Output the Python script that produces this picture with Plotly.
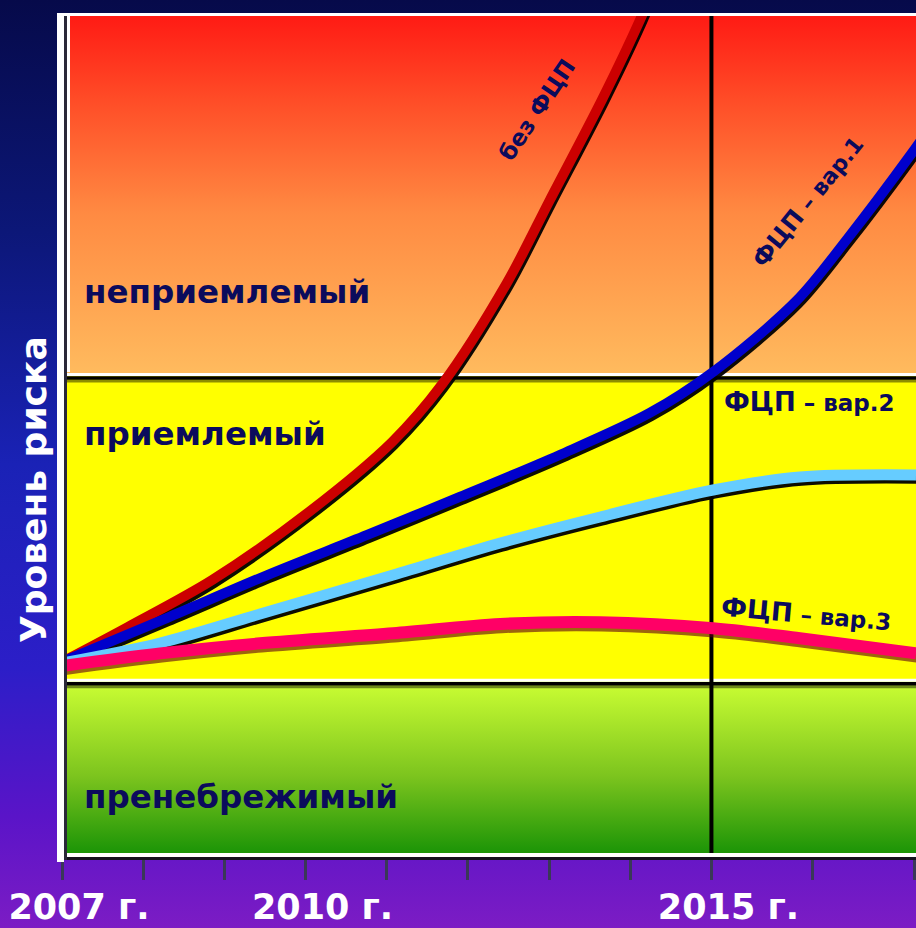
import base64
import plotly.graph_objects as go

# ---------------- data ----------------
years_red = [2007.0, 2007.81, 2008.85, 2010.05, 2011.07, 2011.68, 2012.48, 2013.01, 2013.65, 2014.12, 2014.30]
risk_red = [22.98, 27.14, 32.74, 40.9, 49.2, 56.0, 68.10, 77.98, 89.88, 99.40, 103.57]

years_blue = [2007.0, 2008.29, 2009.53, 2010.76, 2011.90, 2013.13, 2014.24, 2015.02, 2016.05, 2016.67, 2017.45, 2017.69]
risk_blue = [22.98, 28.21, 33.33, 38.10, 42.62, 47.62, 52.62, 57.50, 66.0, 73.3, 83.3, 86.6]

years_lblue = [2007.0, 2008.21, 2009.44, 2011.08, 2012.40, 2013.63, 2015.02, 2016.09, 2017.52]
risk_lblue = [22.86, 25.24, 28.69, 33.33, 37.14, 40.24, 43.45, 45.0, 45.24]

years_pink = [2007.0, 2008.21, 2009.44, 2011.08, 2012.40, 2013.63, 2015.02, 2016.09, 2017.52]
risk_pink = [22.5, 24.0, 25.2, 26.4, 27.5, 27.7, 27.0, 25.8, 24.0]

series_names = ["без ФЦП", "ФЦП – вар.1", "ФЦП – вар.2", "ФЦП – вар.3"]
zone_names = ["неприемлемый", "приемлемый", "пренебрежимый"]
zone_levels = [0.0, 20.8, 57.2, 100.0]
marker_year = 2015
tick_years = [2007, 2008, 2009, 2010, 2011, 2012, 2013, 2014, 2015, 2016.25, 2017.5]
tick_labels = ["2007 г.", "", "", "2010 г.", "", "", "", "", "2015 г.", "", ""]
y_title = "Уровень риска"

# ---------------- geometry ----------------
W, H = 916, 928
PX_L, PX_R, PY_T, PY_B = 62, 916, 15, 855
X0, X1 = 2007.0, 2017.52
Y0, Y1 = 0.0, 100.0
ux = (PX_R - PX_L) / (X1 - X0)   # px per year
uy = (PY_B - PY_T) / (Y1 - Y0)   # px per unit

NAVY = "#0b0b5c"
FONT = "DejaVu Sans"

fig = go.Figure()

# background gradient of the whole page
svg = (
    "<svg xmlns='http://www.w3.org/2000/svg' width='916' height='928' preserveAspectRatio='none'>"
    "<defs><linearGradient id='g' x1='0' y1='0' x2='0' y2='1'>"
    "<stop offset='0' stop-color='#060a4a'/>"
    "<stop offset='0.25' stop-color='#0c1778'/>"
    "<stop offset='0.5' stop-color='#1a22b6'/>"
    "<stop offset='0.72' stop-color='#2c1ec8'/>"
    "<stop offset='0.88' stop-color='#5a14c8'/>"
    "<stop offset='1' stop-color='#7c1cc4'/>"
    "</linearGradient></defs><rect width='916' height='928' fill='url(#g)'/></svg>"
)
bg_src = "data:image/svg+xml;base64," + base64.b64encode(svg.encode()).decode()

# zone fills
zone_scales = [
    [[0, "#199306"], [0.45, "#7cc41e"], [1, "#ccff33"]],
    [[0, "#ffff00"], [1, "#ffff00"]],
    [[0, "#ffbb5e"], [0.45, "#ff8a42"], [0.75, "#ff4f28"], [1, "#ff1a14"]],
]
for i in range(3):
    lo, hi = zone_levels[i], zone_levels[i + 1]
    fig.add_trace(go.Scatter(
        x=[X0, X1, X1, X0, X0], y=[lo, lo, hi, hi, lo],
        mode="lines", line=dict(width=0), fill="toself",
        fillgradient=dict(type="vertical", colorscale=zone_scales[i], start=lo, stop=hi),
        hoverinfo="skip", showlegend=False))

# zone boundary lines (white line + dark shadow under it)
for lv in zone_levels[1:3]:
    fig.add_trace(go.Scatter(x=[X0, X1], y=[lv - 6.5 / uy] * 2, mode="lines",
                             line=dict(color="rgba(0,0,0,0.45)", width=3), hoverinfo="skip", showlegend=False))
    fig.add_trace(go.Scatter(x=[X0, X1], y=[lv - 3.5 / uy] * 2, mode="lines",
                             line=dict(color="#000000", width=3.5), hoverinfo="skip", showlegend=False))
    fig.add_trace(go.Scatter(x=[X0, X1], y=[lv, lv], mode="lines",
                             line=dict(color="#ffffff", width=3), hoverinfo="skip", showlegend=False))

# vertical 2015 line
fig.add_trace(go.Scatter(x=[marker_year, marker_year], y=[Y0, Y1], mode="lines",
                         line=dict(color="#000000", width=4), hoverinfo="skip", showlegend=False))

# curves with shadow
curves = [
    (years_red, risk_red, "#cc0000", 10, "rgba(0,0,0,0.95)"),
    (years_blue, risk_blue, "#0000cc", 10, "rgba(0,0,0,0.95)"),
    (years_lblue, risk_lblue, "#66ccff", 11, "rgba(0,0,0,0.95)"),
    (years_pink, risk_pink, "#ff0066", 12, "rgba(90,0,20,0.6)"),
]
for (xs, ys, col, w, sh), name in zip(curves, series_names):
    fig.add_trace(go.Scatter(x=[v + 1.5 / ux for v in xs], y=[v - 3.2 / uy for v in ys],
                             mode="lines", line=dict(color=sh, width=w, shape="spline", smoothing=0.9),
                             hoverinfo="skip", showlegend=False))
    fig.add_trace(go.Scatter(x=xs, y=ys, name=name, mode="lines",
                             line=dict(color=col, width=w, shape="spline", smoothing=0.9),
                             showlegend=False))

# ---------------- annotations ----------------
ann = []
zone_label_y = [67.0, 50.1, 6.9]
for name, yy in zip(zone_names, zone_label_y):
    ann.append(dict(x=2007.25, y=yy, xref="x", yref="y", text=name, showarrow=False,
                    xanchor="left", yanchor="middle",
                    font=dict(family=FONT, size=32.5, color=NAVY, weight="bold")))

ann.append(dict(x=2012.85, y=88.7, xref="x", yref="y", text=series_names[0], showarrow=False,
                textangle=-56, font=dict(family=FONT, size=23, color=NAVY, weight="bold")))
lab1 = series_names[1].split(" ", 1)
ann.append(dict(x=2016.19, y=77.7, xref="x", yref="y",
                text=lab1[0] + "<span style='font-size:22px'> " + lab1[1] + "</span>",
                showarrow=False, textangle=-51,
                font=dict(family=FONT, size=24, color=NAVY, weight="bold")))
lab2 = series_names[2].split(" ", 1)
ann.append(dict(x=2015.13, y=53.9, xref="x", yref="y",
                text=lab2[0] + "<span style='font-size:23px'> " + lab2[1] + "</span>",
                showarrow=False, xanchor="left", yanchor="middle",
                font=dict(family=FONT, size=26, color=NAVY, weight="bold")))
lab3 = series_names[3].split(" ", 1)
ann.append(dict(x=2015.08, y=28.7, xref="x", yref="y",
                text=lab3[0] + "<span style='font-size:23px'> " + lab3[1] + "</span>",
                showarrow=False, xanchor="left", yanchor="middle", textangle=5,
                font=dict(family=FONT, size=26, color=NAVY, weight="bold")))

ann.append(dict(x=33 / W, y=1 - 490 / H, xref="paper", yref="paper", text=y_title,
                showarrow=False, textangle=-90, xanchor="center", yanchor="middle",
                font=dict(family=FONT, size=36, color="#ffffff", weight="bold")))

# ---------------- frame shapes ----------------
def prect(x0, y0, x1, y1, color):
    return dict(type="rect", xref="paper", yref="paper", x0=x0 / W, x1=x1 / W,
                y0=1 - y1 / H, y1=1 - y0 / H, fillcolor=color, line=dict(width=0), layer="above")

shapes = [
    prect(57, 13, 916, 16, "#ffffff"),      # top white
    prect(57, 853, 916, 857, "#ffffff"),    # bottom white
    prect(57, 857, 916, 860, "#15101e"),    # bottom shadow
    prect(57, 13, 64, 862, "#ffffff"),      # left white
    prect(64, 16, 67, 860, "#2a2838"),      # left shadow
    prect(67, 16, 70, 372, "#ffffff"),      # inner white of red zone
]

fig.update_layout(
    width=W, height=H,
    margin=dict(l=0, r=0, t=0, b=0, pad=0, autoexpand=False),
    paper_bgcolor="#1a22b6",
    plot_bgcolor="rgba(0,0,0,0)",
    showlegend=False,
    images=[dict(source=bg_src, xref="paper", yref="paper", x=0, y=1, sizex=1, sizey=1,
                 sizing="stretch", xanchor="left", yanchor="top", layer="below")],
    xaxis=dict(domain=[PX_L / W, 1.0], range=[X0, X1], showgrid=False, zeroline=False,
               showline=False, automargin=False, tickmode="array", tickvals=tick_years,
               ticktext=tick_labels,
               ticks="outside", ticklen=24, tickwidth=3, tickcolor="#3a3858",
               ticklabelshift=17, ticklabelstandoff=-3,
               tickfont=dict(family=FONT, size=35, color="#ffffff", weight="bold")),
    yaxis=dict(domain=[1 - PY_B / H, 1 - PY_T / H], range=[Y0, Y1], showgrid=False,
               zeroline=False, showline=False, showticklabels=False, ticks="", automargin=False),
    annotations=ann,
    shapes=shapes,
)

fig.write_html("out.html", config={"displayModeBar": False},
               post_script="document.body.style.margin='0';document.body.style.overflow='hidden';")
